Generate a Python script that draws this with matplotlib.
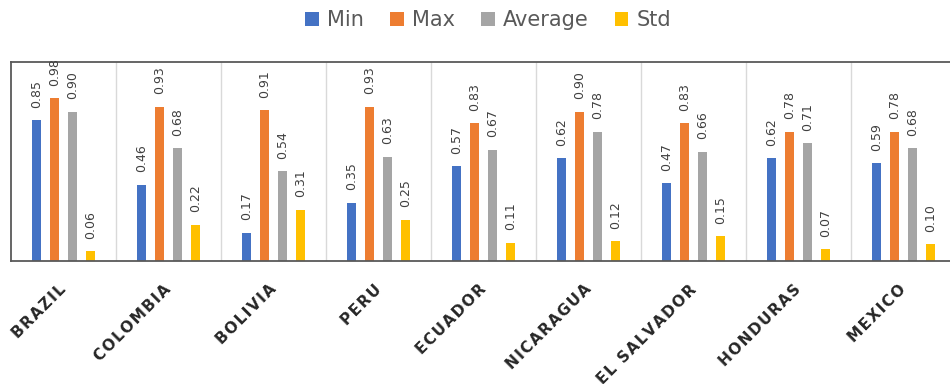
import matplotlib
matplotlib.use("Agg")
from matplotlib import pyplot as plt
from matplotlib.patches import Patch
from matplotlib.transforms import ScaledTranslation
import numpy as np

COUNTRIES = [
    "BRAZIL",
    "COLOMBIA",
    "BOLIVIA",
    "PERU",
    "ECUADOR",
    "NICARAGUA",
    "EL SALVADOR",
    "HONDURAS",
    "MEXICO",
]
MIN_VALS = [0.85, 0.46, 0.17, 0.35, 0.57, 0.62, 0.47, 0.62, 0.59]
MAX_VALS = [0.98, 0.93, 0.91, 0.93, 0.83, 0.90, 0.83, 0.78, 0.78]
AVG_VALS = [0.90, 0.68, 0.54, 0.63, 0.67, 0.78, 0.66, 0.71, 0.68]
STD_VALS = [0.06, 0.22, 0.31, 0.25, 0.11, 0.12, 0.15, 0.07, 0.10]
SERIES_NAMES = ["Min", "Max", "Average", "Std"]
COLORS = ["#4472C4", "#ED7D31", "#A5A5A5", "#FFC000"]


def spaced(word):
    # widen the letters a bit with hair spaces
    return "\u200a".join(word)


def main():
    fig = plt.figure(figsize=(9.5, 3.84), dpi=100)
    ax = fig.add_axes([0.0116, 0.3203, 0.9947, 0.5182])

    series = [MIN_VALS, MAX_VALS, AVG_VALS, STD_VALS]
    x = np.arange(len(COUNTRIES))
    step = 0.171
    width = 0.09
    for i, (vals, col) in enumerate(zip(series, COLORS)):
        pos = x + (i - 1.5) * step
        bars = ax.bar(pos, vals, width=width, color=col, zorder=2)
        for b, v in zip(bars, vals):
            ax.annotate(
                f"{v:.2f}",
                (b.get_x() + b.get_width() / 2, v),
                xytext=(0, 9),
                textcoords="offset points",
                rotation=90,
                ha="center",
                va="bottom",
                fontsize=9,
                color="#404040",
            )

    for b in np.arange(0.5, len(COUNTRIES), 1.0):
        ax.axvline(b, color="#D9D9D9", linewidth=1, zorder=1)

    ax.set_xlim(-0.5, len(COUNTRIES) - 0.5)
    ax.set_ylim(0, 1.2)
    ax.set_yticks([])
    ax.set_xticks(x)
    ax.set_xticklabels(
        [spaced(c) for c in COUNTRIES],
        rotation=45,
        ha="right",
        rotation_mode="anchor",
        fontsize=11,
        fontweight="bold",
        color="#262626",
    )
    ax.tick_params(axis="x", length=0, pad=15)
    shift = ScaledTranslation(-5 / 100, 0, fig.dpi_scale_trans)
    for lbl in ax.get_xticklabels():
        lbl.set_transform(lbl.get_transform() + shift)
    for side in ["left", "top", "bottom"]:
        ax.spines[side].set_color("#595959")
        ax.spines[side].set_linewidth(1.3)
    ax.spines["right"].set_visible(False)

    handles = [Patch(facecolor=c, edgecolor="none") for c in COLORS]
    leg = fig.legend(
        handles,
        SERIES_NAMES,
        loc="center",
        bbox_to_anchor=(0.514, 0.948),
        ncol=4,
        frameon=False,
        fontsize=15,
        handlelength=0.65,
        handleheight=0.65,
        handletextpad=0.4,
        columnspacing=1.25,
    )
    for t in leg.get_texts():
        t.set_color("#595959")

    fig.savefig("out.png", dpi=100)
    plt.close(fig)


if __name__ == "__main__":
    main()
